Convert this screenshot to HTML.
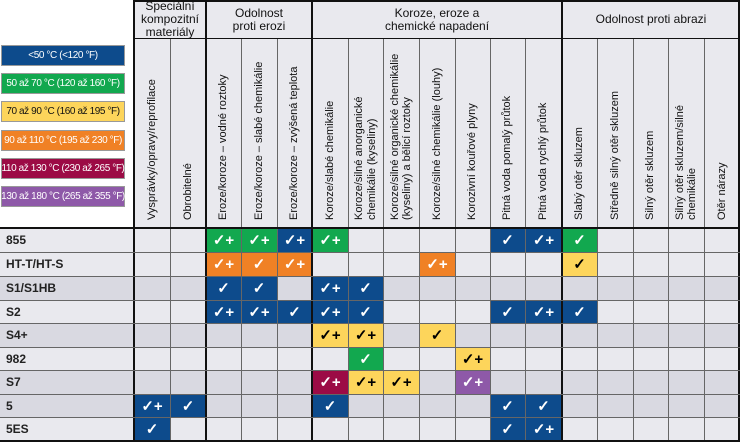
<!DOCTYPE html>
<html><head><meta charset="utf-8"><style>
body{margin:0;width:740px;height:442px;background:#fff;position:relative;overflow:hidden;font-family:"Liberation Sans",sans-serif}
div{position:absolute;box-sizing:border-box}
.lg{left:1px;width:124px;height:21px;color:#fff;font-size:10px;display:flex;align-items:center;justify-content:center;border:1px solid #999;letter-spacing:-0.4px;white-space:nowrap}
.gh{top:1px;height:37px;background:#e9e9ee;font-size:12px;text-align:center;display:flex;align-items:center;justify-content:center;line-height:13px;color:#111}
.vh{top:228px;height:35px;width:184px;transform:rotate(-90deg);transform-origin:0 0;font-size:11px;line-height:12.5px;display:flex;align-items:center;padding-left:8px;color:#111;background:#e9e9ee}
.c{display:flex;align-items:center;justify-content:center;font-size:15px;font-weight:bold;color:#fff}
.rl{left:0;width:134px;font-size:12px;font-weight:bold;display:flex;align-items:center;padding-left:6px;color:#222}
.vl{width:1px;background:#666}
.hl{left:0;height:1px;width:740px;background:#666}
</style></head><body>
<div class="lg" style="top:45px;background:#0d4b8c">&lt;50 °C (&lt;120 °F)</div>
<div class="lg" style="top:73px;background:#12a84f">50 až 70 °C (120 až 160 °F)</div>
<div class="lg" style="top:101px;background:#fdd55b;color:#111">70 až 90 °C (160 až 195 °F)</div>
<div class="lg" style="top:130px;background:#f08125">90 až 110 °C (195 až 230 °F)</div>
<div class="lg" style="top:158px;background:#9c0b45">110 až 130 °C (230 až 265 °F)</div>
<div class="lg" style="top:186px;background:#8e59a8">130 až 180 °C (265 až 355 °F)</div>
<div id="g"></div>
<script>
var X=[0,134,170,206,241,277,312,348,383,419,455,490,525,562,597,633,668,704,740];
var Y=[228,252,276,300,323,347,370,394,417,440];
var h='';
var groups=[[1,3,'Speciální<br>kompozitní<br>materiály'],[3,6,'Odolnost<br>proti erozi'],[6,13,'Koroze, eroze a<br>chemické napadení'],[13,18,'Odolnost proti abrazi']];
groups.forEach(function(g){h+='<div class="gh" style="left:'+X[g[0]]+'px;width:'+(X[g[1]]-X[g[0]])+'px">'+g[2]+'</div>';});
var vt=['Vysprávky/opravy/reprofilace','Obrobitelné','Eroze/koroze – vodné roztoky','Eroze/koroze – slabé chemikálie','Eroze/koroze – zvýšená teplota','Koroze/slabé chemikálie','Koroze/silné anorganické<br>chemikálie (kyseliny)','Koroze/silné organické chemikálie<br>(kyseliny) a bělicí roztoky','Koroze/silné chemikálie (louhy)','Korozivní kouřové plyny','Pitná voda pomalý průtok','Pitná voda rychlý průtok','Slabý otěr skluzem','Středně silný otěr skluzem','Silný otěr skluzem','Silný otěr skluzem/silné<br>chemikálie','Otěr nárazy'];
vt.forEach(function(t,i){var w=X[i+2]-X[i+1];h+='<div class="vh" style="left:'+X[i+1]+'px;height:'+w+'px;width:'+(228-38)+'px"><span>'+t+'</span></div>';});
var rows=['855','HT-T/HT-S','S1/S1HB','S2','S4+','982','S7','5','5ES'];
var dark=[0,0,1,0,1,0,1,1,0];
var C={B:'#0d4b8c',G:'#12a84f',Y:'#fdd55b',O:'#f08125',R:'#9c0b45',P:'#8e59a8'};
var D=[
{3:'G+',4:'G+',5:'B+',6:'G+',11:'B',12:'B+',13:'G'},
{3:'O+',4:'O',5:'O+',9:'O+',13:'Y'},
{3:'B',4:'B',6:'B+',7:'B'},
{3:'B+',4:'B+',5:'B',6:'B+',7:'B',11:'B',12:'B+',13:'B'},
{6:'Y+',7:'Y+',9:'Y'},
{7:'G',10:'Y+'},
{6:'R+',7:'Y+',8:'Y+',10:'P+'},
{1:'B+',2:'B',6:'B',11:'B',12:'B'},
{1:'B',11:'B',12:'B+'}];
rows.forEach(function(r,i){var bg=dark[i]?'#d9d9e1':'#e9e9ee';var y=Y[i],hh=Y[i+1]-Y[i];
h+='<div class="rl" style="top:'+y+'px;height:'+hh+'px;background:'+bg+'">'+r+'</div>';
for(var c=1;c<=17;c++){var v=D[i][c];var s='left:'+X[c]+'px;top:'+y+'px;width:'+(X[c+1]-X[c])+'px;height:'+hh+'px;';
if(v){var k=v[0];s+='background:'+C[k]+';'+(k=='Y'?'color:#000;':'');h+='<div class="c" style="'+s+'">✓'+(v.length>1?'+':'')+'</div>';}
else h+='<div class="c" style="'+s+'background:'+bg+'"></div>';}});
X.forEach(function(x,i){if(i==0)return;var thick=[1,3,6,13,18].indexOf(i)>=0;var xx=i==18?738:x-(thick?1:0);
h+='<div class="vl" style="left:'+xx+'px;top:'+(thick?0:38)+'px;height:'+(thick?442:404)+'px;width:'+(thick?2:1)+'px;background:'+(thick?'#111':'#666')+'"></div>';});
h+='<div style="left:0;top:440px;width:740px;height:2px;background:#111"></div>';
h+='<div style="left:134px;top:0;width:606px;height:2px;background:#111"></div>';
h+='<div style="left:134px;top:38px;width:606px;height:1px;background:#111"></div>';
h+='<div style="left:0;top:227px;width:740px;height:2px;background:#111"></div>';
Y.slice(1,9).forEach(function(y){h+='<div class="hl" style="top:'+y+'px"></div>';});
document.getElementById('g').innerHTML=h;
</script>
</body></html>
